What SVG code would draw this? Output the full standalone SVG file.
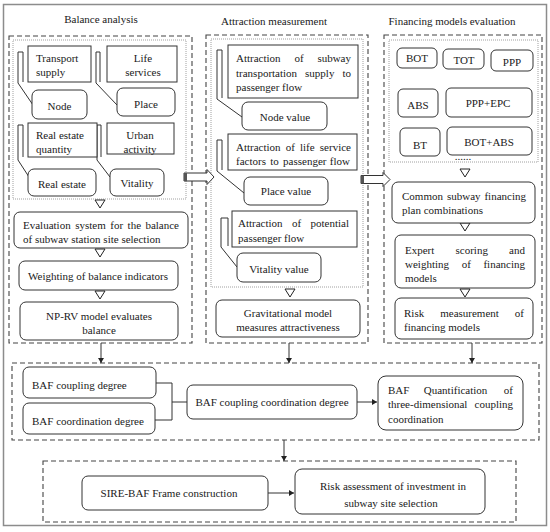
<svg xmlns="http://www.w3.org/2000/svg" width="550" height="532" viewBox="0 0 550 532">
<defs>
<style>
.frame{fill:#fff;stroke:#8c8c8c;stroke-width:1.5}
.box{fill:#fff;stroke:#333;stroke-width:1}
.dash{fill:none;stroke:#444;stroke-width:1.1;stroke-dasharray:5 3}
.dot{fill:none;stroke:#888;stroke-width:0.8;stroke-dasharray:1 1}
.t{font-family:"Liberation Serif","Times New Roman","DejaVu Serif",serif;font-size:11px;fill:#1a1a1a}
.c{text-anchor:middle}
.e{text-anchor:end}
.tri{fill:#fff;stroke:#222;stroke-width:1}
.ln{fill:none;stroke:#333;stroke-width:1}
.blk{fill:#fff;stroke:#333;stroke-width:1}
</style>
<marker id="ah" markerWidth="6" markerHeight="6" refX="5" refY="3" orient="auto" markerUnits="userSpaceOnUse">
<path d="M0,0 L5,3 L0,6 Z" fill="#222"/>
</marker>
</defs>
<rect class="frame" x="3.5" y="4.5" width="543" height="521"/>

<!-- section containers -->
<g id="containers">
<text class="t c" x="101" y="23">Balance analysis</text>
<text class="t c" x="274" y="25">Attraction measurement</text>
<text class="t c" x="452" y="25">Financing models evaluation</text>
<rect class="dash" x="9" y="36" width="183" height="307"/>
<rect class="dot" x="13" y="40" width="173" height="159"/>
<rect class="dash" x="206" y="35" width="162" height="308"/>
<rect class="dot" x="211" y="39" width="152" height="248"/>
<rect class="dash" x="384" y="35" width="158" height="308"/>
<rect class="dot" x="389" y="40" width="149" height="122"/>
<rect class="dash" x="12" y="363" width="527" height="77"/>
<rect class="dash" x="43" y="461" width="473" height="61"/>
</g>

<!-- connectors -->
<g id="connectors">
<!-- callout brackets -->
<path class="ln" d="M23,52 V82 M23,52 H18 V83 L33,105"/>
<path class="ln" d="M100,52 V82 M100,52 H96 V83 L117,105"/>
<path class="ln" d="M23,125 V157 M23,125 H18 V160 L29,177"/>
<path class="ln" d="M101,125 V157 M101,125 H97 V160 L110,177"/>
<path class="ln" d="M222,50 V98 M222,50 H217 V99 L242,117"/>
<path class="ln" d="M222,140 V170 M222,140 H217 V171 L244,193"/>
<path class="ln" d="M228,218 V246 M228,218 H221 V247 L237,267"/>
<!-- open triangles -->
<path class="tri" d="M95,200 L105,200 L100,208 Z"/>
<path class="tri" d="M95,249 L105,249 L100,257 Z"/>
<path class="tri" d="M95,291 L105,291 L100,299 Z"/>
<path class="tri" d="M285,289 L295,289 L290,297 Z"/>
<path class="tri" d="M460,169 L470,169 L465,177 Z"/>
<path class="tri" d="M460,223 L470,223 L465,231 Z"/>
<path class="tri" d="M460,289 L470,289 L465,297 Z"/>
<!-- block arrows -->
<polygon class="blk" points="184,173 207,173 207,169.5 214,177 207,184.5 207,181 184,181"/>
<rect x="184" y="173" width="3" height="8" fill="#555"/>
<polygon class="blk" points="361,175.5 383,175.5 383,172.5 390,179.5 383,186.5 383,183.5 361,183.5"/>
<rect x="361" y="175.5" width="3" height="8" fill="#555"/>
<!-- down arrows -->
<line class="ln" x1="101" y1="343" x2="101" y2="363" marker-end="url(#ah)"/>
<line class="ln" x1="289" y1="343" x2="289" y2="363" marker-end="url(#ah)"/>
<line class="ln" x1="472" y1="343" x2="472" y2="363" marker-end="url(#ah)"/>
<line class="ln" x1="284" y1="440" x2="284" y2="461" marker-end="url(#ah)"/>
<!-- bottom connectors -->
<path class="ln" d="M156,383 H172 V420 H155 M172,402 H187"/>
<line class="ln" x1="357" y1="402" x2="377" y2="402" marker-end="url(#ah)"/>
<line class="ln" x1="268" y1="493" x2="294" y2="493" marker-end="url(#ah)"/>
<!-- ellipsis -->
<text class="t c" x="463" y="160">......</text>
</g>

<!-- column 1 -->
<g id="n-transport"><rect class="box" x="28" y="46" width="63" height="36"/><text class="t" x="36" y="62">Transport</text><text class="t" x="36" y="76">supply</text></g>
<g id="n-node"><rect class="box" x="32" y="90" width="55" height="29" rx="6"/><text class="t c" x="59.5" y="110">Node</text></g>
<g id="n-life"><rect class="box" x="107" y="46" width="70" height="36"/><text class="t c" x="143" y="62">Life</text><text class="t c" x="143" y="76">services</text></g>
<g id="n-place"><rect class="box" x="117" y="88" width="58" height="28" rx="6"/><text class="t c" x="146" y="108">Place</text></g>
<g id="n-rq"><rect class="box" x="28" y="123" width="69" height="34"/><text class="t" x="36" y="139">Real estate</text><text class="t" x="36" y="153">quantity</text></g>
<g id="n-urban"><rect class="box" x="107" y="123" width="67" height="31"/><text class="t c" x="140" y="139">Urban</text><text class="t c" x="140" y="153">activity</text></g>
<g id="n-re"><rect class="box" x="28" y="169" width="68" height="27" rx="6"/><text class="t c" x="62" y="188">Real estate</text></g>
<g id="n-vit"><rect class="box" x="110" y="169" width="54" height="27" rx="6"/><text class="t c" x="137" y="187">Vitality</text></g>
<g id="n-eval"><rect class="box" x="14" y="212" width="174" height="36" rx="6"/>
<text class="t" x="23" y="229">Evaluation</text><text class="t" x="75.2" y="229">system</text><text class="t" x="110.3" y="229">for</text><text class="t" x="127.6" y="229">the</text><text class="t e" x="179" y="229">balance</text>
<text class="t" x="23" y="243">of subwav station site selection</text></g>
<g id="n-weight"><rect class="box" x="19" y="261" width="159" height="29" rx="6"/><text class="t c" x="98" y="280">Weighting of balance indicators</text></g>
<g id="n-nprv"><rect class="box" x="20" y="302" width="158" height="38" rx="6"/><text class="t c" x="99" y="320">NP-RV model evaluates</text><text class="t c" x="99" y="334">balance</text></g>

<!-- column 2 -->
<g id="n-att1"><rect class="box" x="228" y="45" width="130" height="53"/>
<text class="t" x="236" y="62">Attraction</text><text class="t" x="294.4" y="62">of</text><text class="t e" x="351" y="62">subway</text>
<text class="t" x="236" y="77">transportation</text><text class="t" x="305.1" y="77">supply</text><text class="t e" x="351" y="77">to</text>
<text class="t" x="236" y="91">passenger flow</text></g>
<g id="n-nodev"><rect class="box" x="242" y="102" width="85" height="28" rx="6"/><text class="t c" x="285" y="121">Node value</text></g>
<g id="n-att2"><rect class="box" x="228" y="134" width="129" height="36"/>
<text class="t" x="236" y="151">Attraction</text><text class="t" x="285.7" y="151">of</text><text class="t" x="300" y="151">life</text><text class="t e" x="351" y="151">service</text>
<text class="t" x="236" y="165">factors</text><text class="t" x="270.2" y="165">to</text><text class="t" x="283.1" y="165">passenger</text><text class="t e" x="350" y="165">flow</text></g>
<g id="n-placev"><rect class="box" x="244" y="177" width="84" height="28" rx="6"/><text class="t c" x="286" y="195">Place value</text></g>
<g id="n-att3"><rect class="box" x="232" y="211" width="125" height="36"/>
<text class="t" x="238" y="227">Attraction</text><text class="t" x="292" y="227">of</text><text class="t e" x="349" y="227">potential</text>
<text class="t" x="238" y="242">passenger flow</text></g>
<g id="n-vitv"><rect class="box" x="237" y="253" width="84" height="29" rx="6"/><text class="t c" x="279" y="273">Vitality value</text></g>
<g id="n-grav"><rect class="box" x="216" y="300" width="144" height="37" rx="6"/><text class="t c" x="288" y="317">Gravitational model</text><text class="t c" x="288" y="331">measures attractiveness</text></g>

<!-- column 3 -->
<g id="n-bot"><rect class="box" x="397" y="48" width="40" height="20" rx="5"/><text class="t c" x="417" y="62">BOT</text></g>
<g id="n-tot"><rect class="box" x="443" y="49" width="41" height="20" rx="5"/><text class="t c" x="464" y="64">TOT</text></g>
<g id="n-ppp"><rect class="box" x="491" y="50" width="42" height="21" rx="5"/><text class="t c" x="512" y="66">PPP</text></g>
<g id="n-abs"><rect class="box" x="398" y="89" width="40" height="28" rx="5"/><text class="t c" x="418" y="109">ABS</text></g>
<g id="n-pppepc"><rect class="box" x="446" y="88" width="86" height="29" rx="5"/><text class="t c" x="488" y="107">PPP+EPC</text></g>
<g id="n-bt"><rect class="box" x="400" y="128" width="40" height="28" rx="5"/><text class="t c" x="420" y="149">BT</text></g>
<g id="n-botabs"><rect class="box" x="447" y="127" width="85" height="28" rx="5"/><text class="t c" x="489" y="146">BOT+ABS</text></g>
<g id="n-common"><rect class="box" x="392" y="182" width="143" height="41" rx="6"/>
<text class="t" x="402" y="200">Common</text><text class="t" x="447" y="200">subway</text><text class="t e" x="526" y="200">financing</text>
<text class="t" x="402" y="214">plan combinations</text></g>
<g id="n-expert"><rect class="box" x="395" y="235" width="140" height="53" rx="6"/>
<text class="t" x="405" y="254">Expert</text><text class="t" x="455.5" y="254">scoring</text><text class="t e" x="525" y="254">and</text>
<text class="t" x="405" y="268">weighting</text><text class="t" x="461.7" y="268">of</text><text class="t e" x="525" y="268">financing</text>
<text class="t" x="405" y="282">models</text></g>
<g id="n-riskm"><rect class="box" x="395" y="298" width="138" height="41" rx="6"/>
<text class="t" x="404" y="317">Risk</text><text class="t" x="440.2" y="317">measurement</text><text class="t e" x="524" y="317">of</text>
<text class="t" x="404" y="331">financing models</text></g>

<!-- bottom -->
<g id="n-coupling"><rect class="box" x="23" y="367" width="133" height="31" rx="6"/><text class="t" x="32" y="389">BAF coupling degree</text></g>
<g id="n-coord"><rect class="box" x="23" y="403" width="132" height="31" rx="6"/><text class="t" x="32" y="425">BAF coordination degree</text></g>
<g id="n-cc"><rect class="box" x="187" y="385" width="170" height="34" rx="6"/><text class="t c" x="272" y="406">BAF coupling coordination degree</text></g>
<g id="n-quant"><rect class="box" x="378" y="376" width="145" height="54" rx="8"/>
<text class="t" x="388" y="394">BAF</text><text class="t" x="423.8" y="394">Quantification</text><text class="t e" x="513" y="394">of</text>
<text class="t" x="388" y="408">three-dimensional</text><text class="t e" x="513" y="408">coupling</text>
<text class="t" x="388" y="423">coordination</text></g>
<g id="n-sire"><rect class="box" x="82" y="476" width="186" height="34" rx="6"/><text class="t c" x="169" y="497">SIRE-BAF Frame construction</text></g>
<g id="n-risk"><rect class="box" x="295" y="469" width="190" height="45" rx="7"/><text class="t c" x="393" y="490">Risk assessment of investment in</text><text class="t c" x="391" y="507">subway site selection</text></g>
</svg>
